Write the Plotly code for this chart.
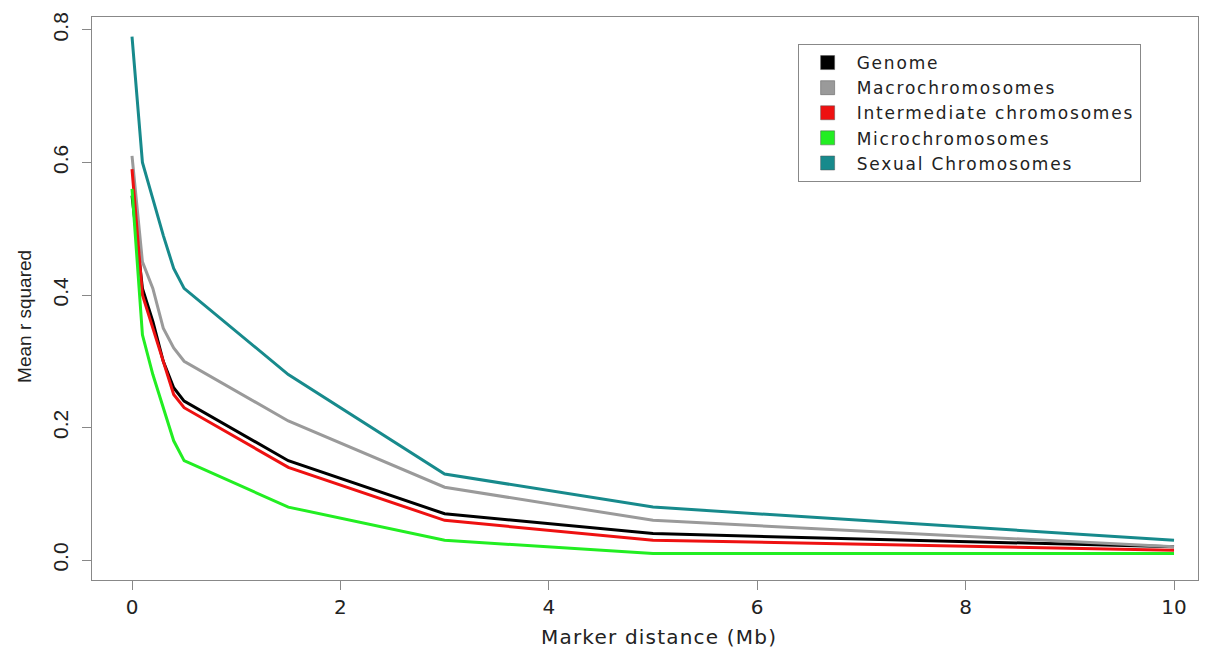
import plotly.graph_objects as go

distance = [0, 0.1, 0.2, 0.3, 0.4, 0.5, 1.5, 3, 5, 10]
genome = [0.55, 0.41, 0.36, 0.30, 0.26, 0.24, 0.15, 0.07, 0.04, 0.02]
macro = [0.61, 0.45, 0.41, 0.35, 0.32, 0.30, 0.21, 0.11, 0.06, 0.02]
intermediate = [0.59, 0.40, 0.35, 0.30, 0.25, 0.23, 0.14, 0.06, 0.03, 0.015]
micro = [0.56, 0.34, 0.28, 0.23, 0.18, 0.15, 0.08, 0.03, 0.01, 0.01]
sexual = [0.79, 0.60, 0.545, 0.49, 0.44, 0.41, 0.28, 0.13, 0.08, 0.03]

names = ["Genome", "Macrochromosomes", "Intermediate chromosomes",
         "Microchromosomes", "Sexual Chromosomes"]
series = [genome, macro, intermediate, micro, sexual]
colors = ["#000000", "#9a9a9a", "#ee1111", "#22ee22", "#178a8c"]

x_ticks = [0, 2, 4, 6, 8, 10]
y_ticks = [0.0, 0.2, 0.4, 0.6, 0.8]


def spaced(text, px):
    return '<span style="letter-spacing:%.1fpx">%s</span>' % (px, text)


fig = go.Figure()
for name, ys, c in zip(names, series, colors):
    fig.add_trace(go.Scatter(x=distance, y=ys, mode="lines", name=name,
                             line=dict(color=c, width=3), showlegend=False))
for name, c in zip(names, colors):
    fig.add_trace(go.Scatter(x=[None], y=[None], mode="markers", name=spaced(name, 1.8),
                             marker=dict(symbol="square", size=14, color=c,
                                         line=dict(color="#555", width=0.5)),
                             showlegend=True))

hfont = dict(family="DejaVu Sans", size=20, color="#222")
lfont = dict(family="DejaVu Sans", size=17, color="#222")
vfont = dict(family="Liberation Sans", size=21, color="#222")

fig.update_layout(
    width=1213, height=648,
    margin=dict(l=92, r=15, t=15, b=68),
    paper_bgcolor="white", plot_bgcolor="white",
    showlegend=True,
    legend=dict(x=0.638, y=0.952, xanchor="left", yanchor="top",
                bordercolor="#888", borderwidth=1, bgcolor="white",
                font=lfont, tracegroupgap=0, itemsizing="trace", itemwidth=48),
    xaxis=dict(range=[-0.384, 10.23], tickvals=x_ticks, ticktext=[str(v) for v in x_ticks],
               showgrid=False, zeroline=False, showline=True, mirror=True,
               linecolor="#888", linewidth=1, ticks="outside", ticklen=9,
               tickcolor="#888", tickfont=hfont),
    yaxis=dict(range=[-0.030, 0.8195], tickvals=y_ticks,
               ticktext=["%.1f" % v for v in y_ticks], tickangle=-90,
               showgrid=False, zeroline=False, showline=True, mirror=True,
               linecolor="#888", linewidth=1, ticks="outside", ticklen=9,
               tickcolor="#888", tickfont=vfont, ticklabelstandoff=6),
    annotations=[
        dict(text=spaced("Marker distance (Mb)", 1.2), xref="paper", yref="paper",
             x=0.5127, y=-0.1009, showarrow=False, font=hfont,
             xanchor="center", yanchor="middle"),
        dict(text="Mean r squared", xref="paper", yref="paper",
             x=-0.0606, y=0.469, showarrow=False, textangle=-90,
             font=dict(family="Liberation Sans", size=19, color="#222"),
             xanchor="center", yanchor="middle"),
    ],
)

fig.write_html("out.html")
